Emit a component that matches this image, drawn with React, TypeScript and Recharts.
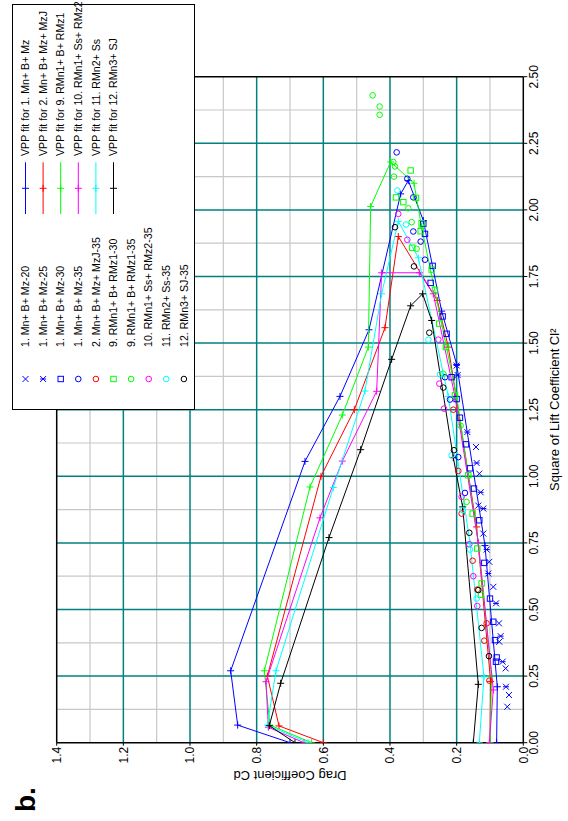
import React from 'react';
import { ScatterChart, Scatter, XAxis, YAxis, ReferenceLine, Legend, Label } from 'recharts';

const FONT = '"Liberation Sans", Arial, Helvetica, sans-serif';
const BLUE = '#0000ff';
const RED = '#ff0000';
const GREEN = '#00ff00';
const MAGENTA = '#ff00ff';
const CYAN = '#00ffff';
const BLACK = '#000000';
const TEAL = '#008080';
const GRAY = '#c8c8c8';

const X_TICKS = [0, 0.25, 0.5, 0.75, 1, 1.25, 1.5, 1.75, 2, 2.25, 2.5];
const Y_TICKS = [0, 0.2, 0.4, 0.6, 0.8, 1.0, 1.2, 1.4];
const X_MINOR = [0.125, 0.375, 0.625, 0.875, 1.125, 1.375, 1.625, 1.875, 2.125, 2.375];
const Y_MINOR = [0.1, 0.3, 0.5, 0.7, 0.9, 1.1, 1.3];
const X_MAJOR = [0.25, 0.5, 0.75, 1, 1.25, 1.5, 1.75, 2, 2.25];
const Y_MAJOR = [0.2, 0.4, 0.6, 0.8, 1.0, 1.2];

type P = [number, number];

// VPP fits: [Cl^2, Cd] in path order
const fit1: P[] = [[0, 0.08], [0.21, 0.078], [0.74, 0.115], [1.42, 0.2], [1.62, 0.245], [1.96, 0.3], [2.11, 0.345], [2.06, 0.368], [1.55, 0.463], [1.3, 0.55], [1.056, 0.655], [0.27, 0.878], [0.066, 0.857], [0, 0.7]];
const fit2: P[] = [[0, 0.1], [0.23, 0.098], [0.81, 0.14], [1.485, 0.225], [1.66, 0.258], [1.9, 0.375], [1.558, 0.415], [1.25, 0.507], [1.0, 0.607], [0.25, 0.768], [0.063, 0.733], [0, 0.6]];
const fit9: P[] = [[0, 0.1], [0.25, 0.095], [0.75, 0.135], [1.3, 0.2], [1.935, 0.305], [2.1, 0.328], [2.18, 0.398], [2.013, 0.458], [1.485, 0.465], [1.23, 0.543], [0.96, 0.64], [0.27, 0.777], [0.066, 0.76], [0, 0.635]];
const fit10: P[] = [[0, 0.102], [0.198, 0.09], [0.75, 0.135], [1.3, 0.205], [1.685, 0.27], [1.764, 0.312], [1.764, 0.425], [1.319, 0.44], [1.057, 0.543], [0.844, 0.61], [0.229, 0.772], [0.058, 0.765], [0, 0.658]];
const fit11: P[] = [[0, 0.132], [0.247, 0.118], [0.75, 0.16], [1.3, 0.225], [1.82, 0.315], [1.957, 0.375], [1.685, 0.425], [1.32, 0.475], [0.958, 0.57], [0.27, 0.742], [0.066, 0.768], [0, 0.646]];
const fit12: P[] = [[0, 0.15], [0.219, 0.135], [0.885, 0.182], [1.07, 0.21], [1.585, 0.275], [1.685, 0.302], [1.64, 0.338], [1.439, 0.395], [1.1, 0.488], [0.77, 0.583], [0.223, 0.728], [0.064, 0.762], [0, 0.685]];

// Measured points: [Cl^2, Cd]
const mz20: P[] = [[0.135, 0.048], [0.179, 0.043], [0.279, 0.053], [0.379, 0.072], [0.448, 0.073], [0.585, 0.09], [0.679, 0.102], [0.785, 0.12], [0.89, 0.135], [1.01, 0.132], [1.11, 0.142]];
const mz25: P[] = [[0.21, 0.052], [0.304, 0.062], [0.4, 0.068], [0.523, 0.082], [0.635, 0.105], [0.725, 0.11], [0.879, 0.12], [0.94, 0.128], [1.05, 0.14], [1.166, 0.168], [1.38, 0.197], [1.416, 0.2]];
const mz30: P[] = [[0.304, 0.082], [0.32, 0.08], [0.385, 0.085], [0.454, 0.09], [0.541, 0.1], [0.675, 0.117], [0.835, 0.132], [0.954, 0.148], [1.03, 0.16], [1.12, 0.172], [1.22, 0.19], [1.29, 0.2], [1.372, 0.215], [1.535, 0.23], [1.6, 0.242], [1.726, 0.278], [1.79, 0.272], [1.91, 0.295], [1.948, 0.3]];
const mz35: P[] = [[0.9375, 0.175], [1.072, 0.195], [1.288, 0.22], [1.372, 0.235], [1.813, 0.295], [1.881, 0.308], [1.919, 0.33], [2.047, 0.33], [2.117, 0.348], [2.216, 0.38]];
const mzj35: P[] = [[0.233, 0.102], [0.383, 0.117], [0.448, 0.11], [0.575, 0.138], [0.683, 0.152], [0.86, 0.185], [1.02, 0.195], [1.25, 0.21]];
const rmz1_30: P[] = [[0.555, 0.127], [0.598, 0.125], [0.729, 0.138], [0.86, 0.152], [1.004, 0.165], [1.304, 0.205], [1.485, 0.232], [1.573, 0.252], [1.7, 0.265], [1.776, 0.275], [1.858, 0.333], [1.92, 0.308], [1.95, 0.305], [2.029, 0.36], [2.045, 0.322], [2.047, 0.382], [2.148, 0.338]];
const rmz1_35: P[] = [[0.904, 0.17], [1.19, 0.188], [1.385, 0.24], [1.854, 0.32], [1.954, 0.335], [2.006, 0.345], [2.125, 0.388], [2.163, 0.385], [2.18, 0.39], [2.357, 0.431], [2.388, 0.431], [2.43, 0.452]];
const rmz2_35: P[] = [[0.513, 0.138], [0.625, 0.15], [0.745, 0.162], [0.923, 0.185], [1.254, 0.238], [1.348, 0.252], [1.513, 0.255], [1.888, 0.348], [1.985, 0.375]];
const ss35: P[] = [[0.541, 0.14], [0.725, 0.16], [0.873, 0.182], [1.079, 0.215], [1.383, 0.25], [1.513, 0.285], [1.945, 0.352], [2.073, 0.378]];
const sj35: P[] = [[0.325, 0.103], [0.431, 0.125], [0.573, 0.135], [0.788, 0.162], [1.098, 0.208], [1.333, 0.24], [1.539, 0.282], [1.788, 0.328], [1.935, 0.385]];

const pts = (a: P[]) => a.map(([x, y]) => ({ x, y }));

type Shape = 'x' | 'star' | 'square' | 'circle' | 'plus';

const drawShape = (shape: Shape, cx: number, cy: number, color: string, key?: string) => {
  const s = 3;
  if (shape === 'plus') {
    return <path key={key} d={`M${cx - 3.5},${cy}H${cx + 3.5}M${cx},${cy - 3.5}V${cy + 3.5}`} stroke={color} strokeWidth={1} fill="none" />;
  }
  if (shape === 'x') {
    return <path key={key} d={`M${cx - s},${cy - s}L${cx + s},${cy + s}M${cx - s},${cy + s}L${cx + s},${cy - s}`} stroke={color} strokeWidth={1} fill="none" />;
  }
  if (shape === 'star') {
    return <path key={key} d={`M${cx - s},${cy - s}L${cx + s},${cy + s}M${cx - s},${cy + s}L${cx + s},${cy - s}M${cx},${cy - s}V${cy + s}`} stroke={color} strokeWidth={1} fill="none" />;
  }
  if (shape === 'square') {
    return <rect key={key} x={cx - 2.7} y={cy - 2.7} width={5.4} height={5.4} stroke={color} strokeWidth={1} fill="none" />;
  }
  return <circle key={key} cx={cx} cy={cy} r={2.8} stroke={color} strokeWidth={1} fill="none" />;
};

const shapeFn = (shape: Shape, color: string) => (props: any) => {
  if (props.cx == null || props.cy == null) return <g />;
  return drawShape(shape, props.cx, props.cy, color);
};

const measured: { name: string; color: string; shape: Shape; data: P[] }[] = [
  { name: '1. Mn+ B+ Mz-20', color: BLUE, shape: 'x', data: mz20 },
  { name: '1. Mn+ B+ Mz-25', color: BLUE, shape: 'star', data: mz25 },
  { name: '1. Mn+ B+ Mz-30', color: BLUE, shape: 'square', data: mz30 },
  { name: '1. Mn+ B+ Mz-35', color: BLUE, shape: 'circle', data: mz35 },
  { name: '2. Mn+ B+ Mz+ MzJ-35', color: RED, shape: 'circle', data: mzj35 },
  { name: '9. RMn1+ B+ RMz1-30', color: GREEN, shape: 'square', data: rmz1_30 },
  { name: '9. RMn1+ B+ RMz1-35', color: GREEN, shape: 'circle', data: rmz1_35 },
  { name: '10. RMn1+ Ss+ RMz2-35', color: MAGENTA, shape: 'circle', data: rmz2_35 },
  { name: '11. RMn2+ Ss-35', color: CYAN, shape: 'circle', data: ss35 },
  { name: '12. RMn3+ SJ-35', color: BLACK, shape: 'circle', data: sj35 },
];

const fits: { name: string; color: string; data: P[] }[] = [
  { name: 'VPP fit for 1. Mn+ B+ Mz', color: BLUE, data: fit1 },
  { name: 'VPP fit for 2. Mn+ B+ Mz+ MzJ', color: RED, data: fit2 },
  { name: 'VPP fit for 9. RMn1+ B+ RMz1', color: GREEN, data: fit9 },
  { name: 'VPP fit for 10. RMn1+ Ss+ RMz2', color: MAGENTA, data: fit10 },
  { name: 'VPP fit for 11. RMn2+ Ss', color: CYAN, data: fit11 },
  { name: 'VPP fit for 12. RMn3+ SJ', color: BLACK, data: fit12 },
];

const ROW0 = 12.5;
const ROWH = 17.6;
const LFONT = 10.6;

const LegendBox = () => (
  <svg width={405} height={181} style={{ display: 'block', overflow: 'visible' }}>
    {measured.map((m, i) => (
      <g key={m.name}>
        {drawShape(m.shape, 30, ROW0 + i * ROWH, m.color)}
        <text x={62} y={ROW0 + i * ROWH} dy="0.35em" fontSize={LFONT} fontFamily={FONT} fill="#000">{m.name}</text>
      </g>
    ))}
    {fits.map((f, i) => (
      <g key={f.name}>
        <line x1={195} x2={246.7} y1={ROW0 + i * ROWH} y2={ROW0 + i * ROWH} stroke={f.color} strokeWidth={1} />
        {drawShape('plus', 220.7, ROW0 + i * ROWH, f.color)}
        <text x={253} y={ROW0 + i * ROWH} dy="0.35em" fontSize={LFONT} fontFamily={FONT} fill="#000">{f.name}</text>
      </g>
    ))}
  </svg>
);

const Chart = () => (
  <ScatterChart width={821} height={568} margin={{ top: 56.7, right: 76.7, bottom: 4.7, left: 18.3 }}>
    <XAxis
      type="number"
      dataKey="x"
      domain={[0, 2.5]}
      ticks={X_TICKS}
      tickFormatter={(v: number) => v.toFixed(2)}
      tick={{ fill: '#000', fontSize: 12, fontFamily: FONT }}
      tickSize={4}
      tickMargin={2}
      axisLine={{ stroke: '#000', strokeWidth: 1.5 }}
      tickLine={{ stroke: '#000' }}
      height={40}
      allowDataOverflow
    >
      <Label value="Square of Lift Coefficient Cl²" position="insideBottom" offset={4} fontSize={13} fontFamily={FONT} fill="#000" />
    </XAxis>
    <YAxis
      type="number"
      dataKey="y"
      domain={[0, 1.4]}
      ticks={Y_TICKS}
      tickFormatter={(v: number) => v.toFixed(1)}
      tick={{ fill: '#000', fontSize: 12, fontFamily: FONT }}
      tickSize={3}
      tickMargin={1}
      axisLine={{ stroke: '#000', strokeWidth: 1.5 }}
      tickLine={{ stroke: '#000' }}
      width={60}
      allowDataOverflow
    >
      <Label
        content={() => (
          <text x={46} y={290} transform="rotate(-90 46 290)" textAnchor="middle" dominantBaseline="central" fontSize={13} fontFamily={FONT} fill="#000">
            Drag Coefficient Cd
          </text>
        )}
      />
    </YAxis>
    {X_MINOR.map((v) => <ReferenceLine key={'xm' + v} x={v} stroke={GRAY} strokeWidth={1.2} />)}
    {Y_MINOR.map((v) => <ReferenceLine key={'ym' + v} y={v} stroke={GRAY} strokeWidth={1.2} />)}
    {X_MAJOR.map((v) => <ReferenceLine key={'xM' + v} x={v} stroke={TEAL} strokeWidth={1.5} />)}
    {Y_MAJOR.map((v) => <ReferenceLine key={'yM' + v} y={v} stroke={TEAL} strokeWidth={1.5} />)}
    <ReferenceLine x={2.5} stroke="#000" strokeWidth={1.5} />
    <ReferenceLine y={1.4} stroke="#000" strokeWidth={1.5} />
    {fits.map((f) => (
      <Scatter
        key={f.name}
        name={f.name}
        data={pts(f.data)}
        fill={f.color}
        line={{ stroke: f.color, strokeWidth: 1 }}
        lineJointType="linear"
        shape={shapeFn('plus', f.color)}
        isAnimationActive={false}
      />
    ))}
    {measured.map((m) => (
      <Scatter
        key={m.name}
        name={m.name}
        data={pts(m.data)}
        fill={m.color}
        shape={shapeFn(m.shape, m.color)}
        isAnimationActive={false}
      />
    ))}
    <Legend
      layout="horizontal"
      verticalAlign="middle"
      align="center"
      content={() => <LegendBox />}
      wrapperStyle={{ left: 411, top: 11.5, width: 406, height: 183.5, border: '1px solid #000', background: '#fff', boxSizing: 'border-box', margin: 0, padding: 0, overflow: 'visible' }}
    />
  </ScatterChart>
);

export default function App() {
  return (
    <div style={{ position: 'fixed', left: 0, top: 0, width: 568, height: 821, overflow: 'hidden', background: '#fff' }}>
      <div
        style={{
          position: 'absolute',
          left: 0,
          top: 0,
          width: 821,
          height: 568,
          transformOrigin: '0 0',
          transform: 'translate(0px, 821px) rotate(-90deg)',
          fontFamily: FONT,
        }}
      >
        <Chart />
        <svg width={60} height={50} style={{ position: 'absolute', left: 0, top: 0 }}>
          <text x={9} y={35} fontSize={28} fontWeight="bold" fontFamily={FONT} fill="#000">b.</text>
        </svg>
      </div>
    </div>
  );
}
